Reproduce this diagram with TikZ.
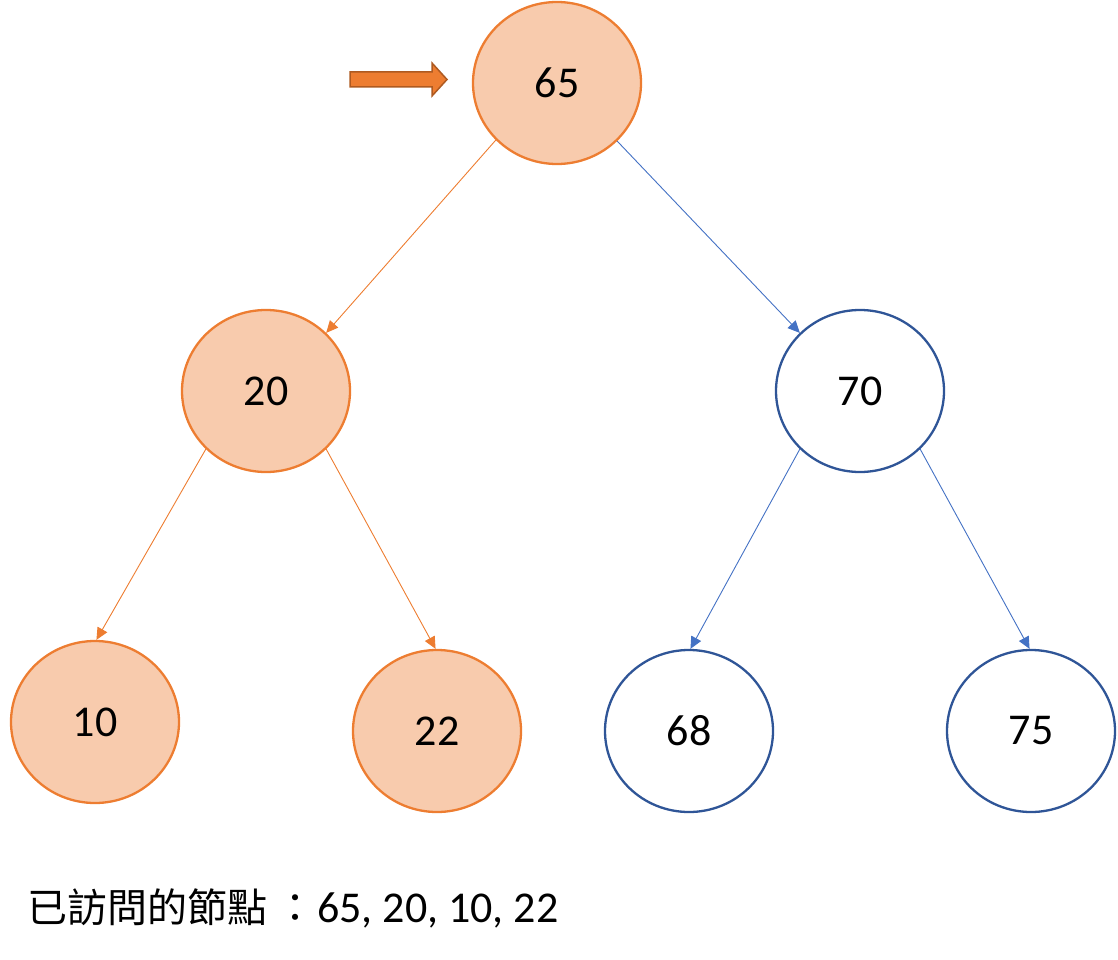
\documentclass[tikz,border=0pt]{standalone}
\usepackage{fontspec}
\setmainfont{Carlito}
\newfontfamily\cjk{Noto Sans CJK TC}
\usetikzlibrary{arrows.meta,shapes.geometric}
\definecolor{orline}{HTML}{ED7D31}
\definecolor{orfill}{HTML}{F8CBAD}
\definecolor{orborder}{HTML}{AE5A21}
\definecolor{bline}{HTML}{2F5597}
\definecolor{bedge}{HTML}{4472C4}
\tikzset{
  tnode/.style={ellipse, minimum width=168pt, minimum height=162pt, inner sep=0pt, line width=2.3pt, font=\fontsize{44}{50}\selectfont},
  visited/.style={tnode, draw=orline, fill=orfill},
  plain/.style={tnode, draw=bline, fill=white},
  oedge/.style={draw=orline, line width=0.9pt, -{Triangle[length=12pt,width=11pt]}, orline},
  bedg/.style={draw=bedge, line width=0.9pt, -{Triangle[length=12pt,width=11pt]}, bedge},
  pointer/.style={fill=orline, draw=orborder, line width=1.5pt, line join=miter}
}
\begin{document}
\begin{tikzpicture}[x=1pt,y=-1pt]
\useasboundingbox (0,0) rectangle (1118,960);
\node[visited] (n65) at (557,83) {65};
\node[visited] (n20) at (266,391) {20};
\node[plain] (n70) at (860,391) {70};
\node[visited] (n10) at (95,722) {10};
\node[visited] (n22) at (437,731) {22};
\node[plain] (n68) at (689,731) {68};
\node[plain] (n75) at (1031,731) {75};
\draw[oedge] (n65.223) -- (n20.44);
\draw[bedg] (n65.-44) -- (n70.136);
\draw[oedge] (n20.224) -- (n10.89);
\draw[oedge] (n20.-44) -- (n22.91);
\draw[bedg] (n70.224) -- (n68.89);
\draw[bedg] (n70.-44) -- (n75.91);
\draw[pointer] (350,72) -- (432,72) -- (432,63) -- (447,79.5) -- (432,96) -- (432,87) -- (350,87) -- cycle;
\node[anchor=base west, inner sep=0pt, font=\fontsize{44}{50}\selectfont] (caption) at (27,922) {{\cjk\fontsize{40}{46}\selectfont 已訪問的節點\kern8pt：\kern2pt}65, 20, 10, 22};
\end{tikzpicture}
\end{document}
